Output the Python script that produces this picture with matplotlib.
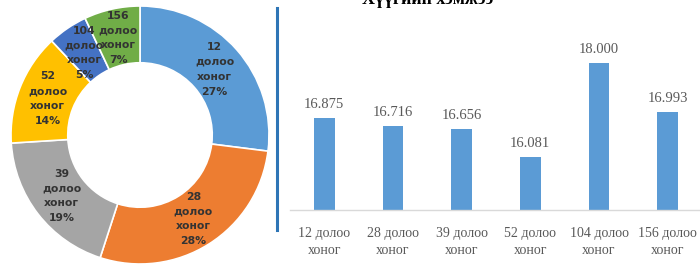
import matplotlib
matplotlib.use("Agg")
import matplotlib.pyplot as plt
from matplotlib.lines import Line2D
import math

# ---- data ----
pie_labels = ["12\nдолоо\nхоног", "28\nдолоо\nхоног", "39\nдолоо\nхоног",
              "52\nдолоо\nхоног", "104\nдолоо\nхоног", "156\nдолоо\nхоног"]
pie_shares = [27, 28, 19, 14, 5, 7]
pie_colors = ["#5B9BD5", "#ED7D31", "#A5A5A5", "#FFC000", "#4472C4", "#70AD47"]

bar_categories = ["12 долоо\nхоног", "28 долоо\nхоног", "39 долоо\nхоног",
                  "52 долоо\nхоног", "104 долоо\nхоног", "156 долоо\nхоног"]
bar_values = [16.875, 16.716, 16.656, 16.081, 18.000, 16.993]
bar_title = "Хүүгийн хэмжээ"

W, H = 700, 269
fig = plt.figure(figsize=(W / 100, H / 100), dpi=100)

# ---- donut ----
cx, cy, R = 140, 134, 129
axp = fig.add_axes([(cx - R) / W, (cy - R) / H, 2 * R / W, 2 * R / H])
wedges, texts = axp.pie(pie_shares, colors=pie_colors, startangle=90, counterclock=False,
                        radius=1.0, wedgeprops=dict(width=0.44, edgecolor="white", linewidth=1.2))
cum = 0
for lab, share in zip(pie_labels, pie_shares):
    mid = 90 - (cum + share / 2) / 100 * 360
    cum += share
    r = 0.77
    axp.text(r * math.cos(math.radians(mid)), r * math.sin(math.radians(mid)),
             f"{lab}\n{share}%", ha="center", va="center", fontsize=7.8,
             fontweight="bold", color="#333333", linespacing=1.6,
             family=["DejaVu Sans"])
axp.set_xlim(-1, 1)
axp.set_ylim(-1, 1)
axp.set_aspect("equal")
axp.axis("off")

# ---- separator line ----
fig.add_artist(Line2D([277 / W, 277 / W], [1 - 8 / H, 1 - 230 / H],
                      color="#2E75B6", linewidth=2.2, transform=fig.transFigure))

# ---- bar chart ----
base_y = 210
axb = fig.add_axes([290 / W, (H - base_y) / H, 412 / W, base_y / H])
x = range(len(bar_values))
axb.bar(x, bar_values, width=0.3, color="#5B9BD5", bottom=0)
axb.set_ylim(15, 15 + base_y / 49.0)
axb.set_xlim(-0.5, len(bar_values) - 0.5)
for xi, v in zip(x, bar_values):
    axb.annotate(f"{v:.3f}", (xi, v), xytext=(0, 5), textcoords="offset points",
                 ha="center", va="bottom", fontsize=10.5, color="#595959",
                 family=["Liberation Serif"])
axb.set_xticks(list(x))
axb.set_xticklabels(bar_categories, fontsize=10, color="#595959",
                    family=["Liberation Serif"], linespacing=1.45)
axb.tick_params(axis="x", length=0, pad=12)
axb.set_yticks([])
for s in ["top", "right", "left"]:
    axb.spines[s].set_visible(False)
axb.spines["bottom"].set_color("#D9D9D9")
axb.spines["bottom"].set_linewidth(1.0)
axb.patch.set_alpha(0)

fig.text(428 / W, 1 - 4 / H, bar_title, ha="center", va="baseline", fontsize=13,
         fontweight="bold", color="#000000", family=["Liberation Serif"])

fig.savefig("out.png", dpi=100)
